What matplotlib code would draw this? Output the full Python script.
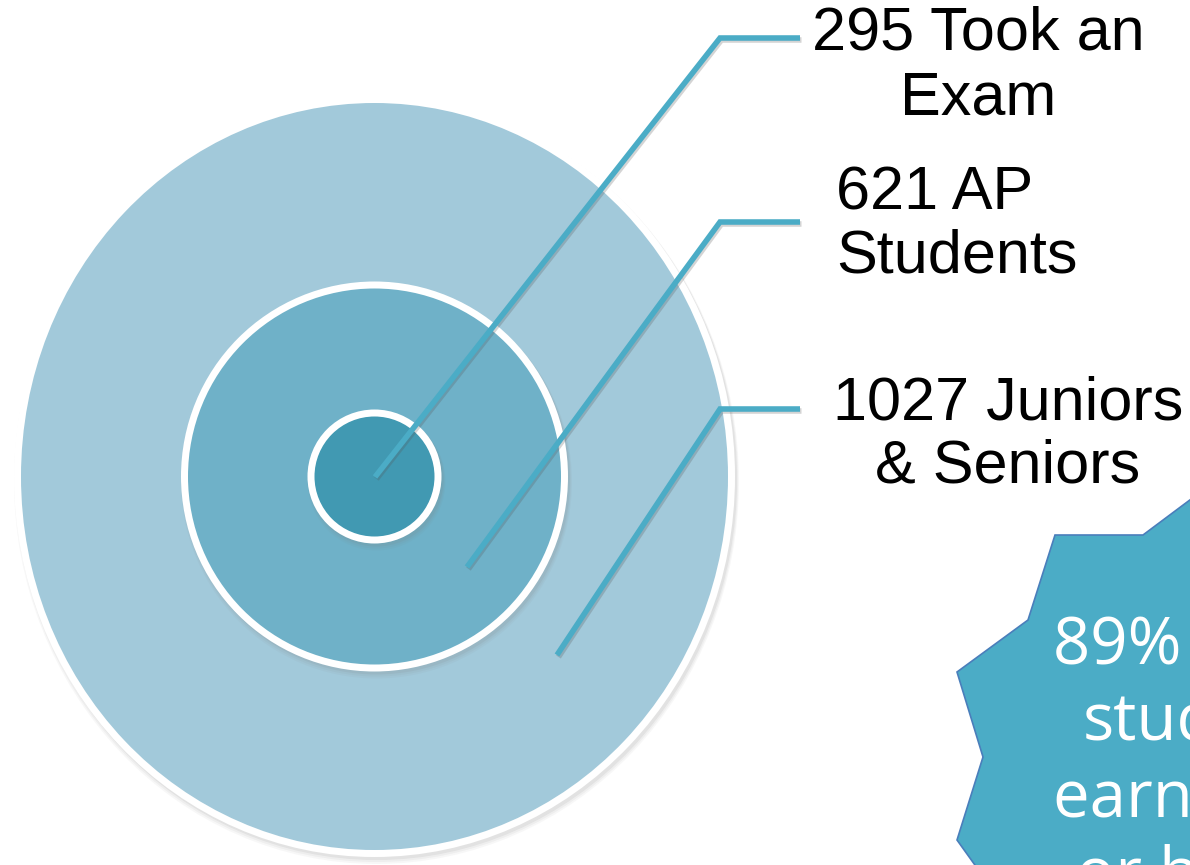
import matplotlib.pyplot as plt
from matplotlib.patches import Ellipse, Polygon

# data
counts = [1027, 621, 295]
labels = ["Juniors\n& Seniors", "AP\nStudents", "Took an\nExam"]
callout = "89% of the\nstudents\nearned a 3\nor higher"

# layout (pixel units, y grows downward)
center = (374.5, 476.5)
sizes = [(707, 747), (373, 376), (120, 120)]
fills = ['#A2C9DA', '#6FB1C8', '#4199B2']
border = 7
tips = [(557, 655), (467, 567), (375, 477)]
elbow_y = [409, 222, 38]
elbow_x, end_x = 720, 800
line_col = '#4BACC6'

fig = plt.figure(figsize=(11.9, 8.65), dpi=100)
ax = fig.add_axes([0, 0, 1, 1])
ax.set_xlim(0, 1190)
ax.set_ylim(865, 0)
ax.axis('off')

for (w, h), col in zip(sizes, fills):
    for k, a in enumerate([0.10, 0.08, 0.06]):
        ax.add_patch(Ellipse((center[0] + 2, center[1] + 3 + k), w + 2 * border + 2 * k,
                             h + 2 * border + 2 * k, color='#808080', alpha=a, lw=0))
    ax.add_patch(Ellipse(center, w + 2 * border, h + 2 * border, color='white', lw=0))
    ax.add_patch(Ellipse(center, w, h, color=col, lw=0))

for (tx, ty), ey in zip(tips, elbow_y):
    xs = [tx, elbow_x, end_x]
    ys = [ty, ey, ey]
    ax.plot([x + 1.5 for x in xs], [y + 2 for y in ys], color='#555555', alpha=0.25,
            lw=4, solid_capstyle='butt', solid_joinstyle='miter')
    ax.plot(xs, ys, color=line_col, lw=4, solid_capstyle='butt', solid_joinstyle='miter')

font = ['Liberation Sans', 'DejaVu Sans']
fs = 44
ax.text(978, 6, f"{counts[2]} {labels[2]}", ha='center', va='top', multialignment='center',
        fontsize=fs, family=font, linespacing=1.17)
ax.text(836, 165, f"{counts[1]} {labels[1]}", ha='left', va='top', multialignment='left',
        fontsize=fs, family=font, linespacing=1.15)
ax.text(1008, 376, f"{counts[0]} {labels[0]}", ha='center', va='top', multialignment='center',
        fontsize=fs, family=font, linespacing=1.13)

star = [(1230, 470), (1143, 535), (1055, 535), (1028, 620), (957, 672), (983, 757),
        (957, 840), (1000, 900), (1300, 900), (1300, 470)]
ax.add_patch(Polygon([(x + 3, y + 4) for x, y in star], closed=True, color='#808080',
                     alpha=0.2, lw=0))
ax.add_patch(Polygon(star, closed=True, facecolor='#4BACC6', edgecolor='#4A7EBB', lw=1.2))
ax.text(1215, 614, callout, ha='center', va='top', multialignment='center',
        fontsize=47, family=['Open Sans', 'DejaVu Sans'], color='white', linespacing=1.21)

plt.savefig("out.png", dpi=100)
